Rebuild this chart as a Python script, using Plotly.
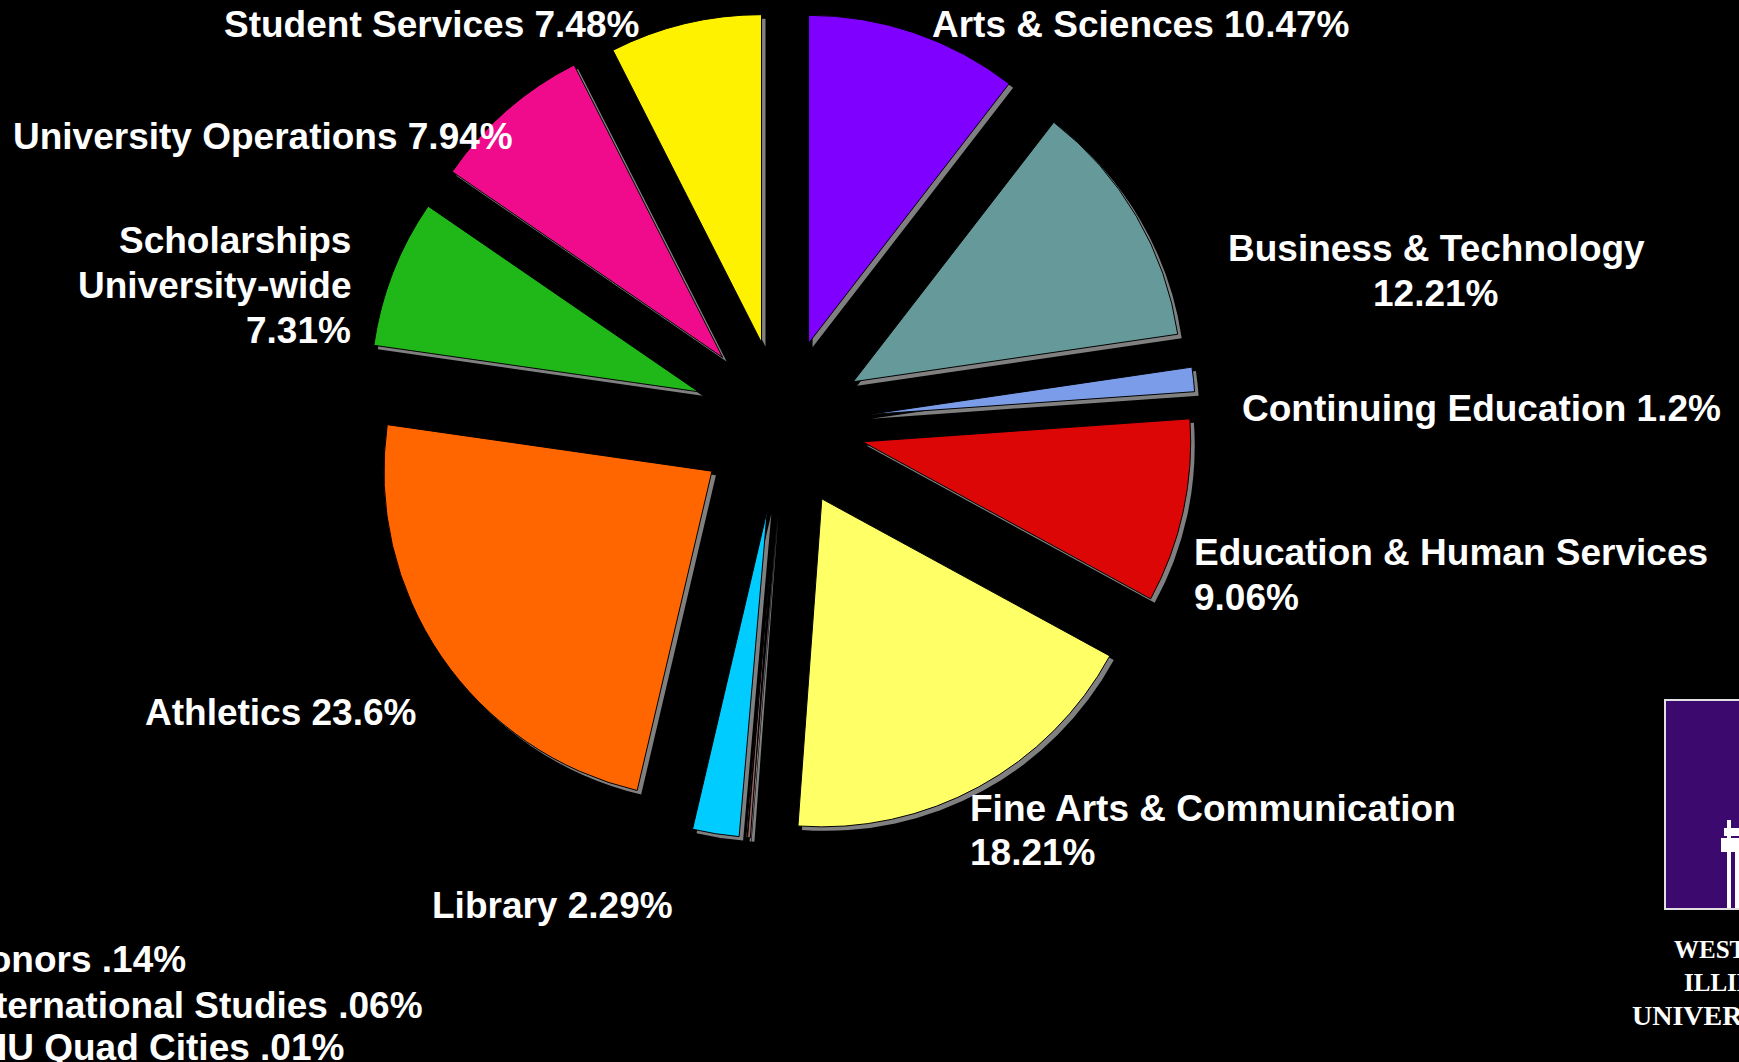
import plotly.graph_objects as go

# ---------------- data ----------------
names = [
    "Arts & Sciences", "Business & Technology", "Continuing Education",
    "Education & Human Services", "Fine Arts & Communication",
    "Honors", "International Studies", "WIU Quad Cities",
    "Library", "Athletics", "Scholarships University-wide",
    "University Operations", "Student Services",
]
values = [10.47, 12.21, 1.2, 9.06, 18.21, 0.14, 0.06, 0.01, 2.29, 23.6, 7.31, 7.94, 7.48]
pct_text = ["10.47%", "12.21%", "1.2%", "9.06%", "18.21%", ".14%", ".06%", ".01%",
            "2.29%", "23.6%", "7.31%", "7.94%", "7.48%"]
colors = ["#7F00FF", "#669999", "#7B9CE8", "#DC0606", "#FFFF66",
          "#996666", "#CC9999", "#993366", "#00CCFF", "#FF6600",
          "#20B818", "#F00A8C", "#FFF200"]
pulls = [0.26, 0.255, 0.265, 0.255, 0.26, 0.265, 0.265, 0.265, 0.265, 0.255, 0.27, 0.27, 0.255]

# ---------------- layout constants (pixels) ----------------
W, H = 1739, 1062
CX, CY, R = 781, 424, 328
half = R * (1 + max(pulls))
SH = 4  # shadow offset


def dom(cx, cy):
    return dict(x=[(cx - half) / W, (cx + half) / W],
                y=[1 - (cy + half) / H, 1 - (cy - half) / H])


fig = go.Figure()
# shadow pie
fig.add_trace(go.Pie(
    labels=names, values=values, sort=False, direction="clockwise", rotation=0,
    pull=pulls, marker=dict(colors=["#808080"] * len(values), line=dict(width=0)),
    textinfo="none", hoverinfo="skip", showlegend=False, domain=dom(CX + SH, CY + SH),
))
# main pie
fig.add_trace(go.Pie(
    labels=names, values=values, sort=False, direction="clockwise", rotation=0,
    pull=pulls, marker=dict(colors=colors, line=dict(color="#000000", width=1)),
    textinfo="none", hoverinfo="skip", showlegend=False, domain=dom(CX, CY),
))

FONT = dict(family="Liberation Sans, Arial, sans-serif", size=37, color="white", weight="bold")
LS = 45


def label(lines, x, y, anchor="left"):
    for k, ln in enumerate(lines):
        fig.add_annotation(text=ln, x=x / W, y=1 - (y + k * LS) / H, xref="paper", yref="paper",
                           xanchor=anchor, yanchor="middle", showarrow=False, font=FONT,
                           align=anchor)


n = {nm: i for i, nm in enumerate(names)}
def t(nm):
    return f"{nm} {pct_text[n[nm]]}"

label([t("Student Services")], 222, 24)
label([t("Arts & Sciences")], 930, 24)
label([t("University Operations")], 11, 136)
label(["Scholarships", "University-wide", pct_text[n["Scholarships University-wide"]]], 353, 240, "right")
label(["Business & Technology", pct_text[n["Business & Technology"]]], 1436, 248, "center")
label([t("Continuing Education")], 1240, 408)
label(["Education & Human Services", pct_text[n["Education & Human Services"]]], 1192, 552)
label(["Fine Arts & Communication", pct_text[n["Fine Arts & Communication"]]], 968, 808)
label([t("Athletics")], 143, 712)
label([t("Library")], 430, 905)
label([t("Honors")], -40, 959)
label([t("International Studies")], -40, 1005)
label([t("WIU Quad Cities")], -40, 1047)

# ---------------- logo (partially cut off at right edge) ----------------
shapes = [
    dict(type="rect", xref="paper", yref="paper", x0=1665 / W, x1=1770 / W,
         y0=1 - 909 / H, y1=1 - 700 / H, fillcolor="#3C0A6E", line=dict(color="#E0E0E0", width=2)),
    dict(type="rect", xref="paper", yref="paper", x0=1727 / W, x1=1731 / W,
         y0=1 - 908 / H, y1=1 - 820 / H, fillcolor="white", line=dict(width=0)),
    dict(type="rect", xref="paper", yref="paper", x0=1721 / W, x1=1739 / W,
         y0=1 - 852 / H, y1=1 - 838 / H, fillcolor="white", line=dict(width=0)),
    dict(type="rect", xref="paper", yref="paper", x0=1724 / W, x1=1739 / W,
         y0=1 - 836 / H, y1=1 - 828 / H, fillcolor="white", line=dict(width=0)),
    dict(type="rect", xref="paper", yref="paper", x0=1735 / W, x1=1739 / W,
         y0=1 - 908 / H, y1=1 - 852 / H, fillcolor="white", line=dict(width=0)),
]
for txt, x, y, sz in [("WESTERN", 1672, 949, 25), ("ILLINOIS", 1682, 982, 25),
                      ("UNIVERSITY", 1630, 1015, 28)]:
    fig.add_annotation(text=txt, x=x / W, y=1 - y / H, xref="paper", yref="paper",
                       xanchor="left", yanchor="middle", showarrow=False,
                       font=dict(family="Liberation Serif, Times New Roman, serif", size=sz,
                                 color="white", weight="bold"))

fig.update_layout(
    width=W, height=H, margin=dict(l=0, r=0, t=0, b=0),
    paper_bgcolor="black", plot_bgcolor="black", shapes=shapes,
)

fig.write_html(
    "out.html",
    config={"displayModeBar": False},
    post_script="document.body.style.margin='0';document.body.style.background='black';"
                "document.body.style.overflow='hidden';",
)
